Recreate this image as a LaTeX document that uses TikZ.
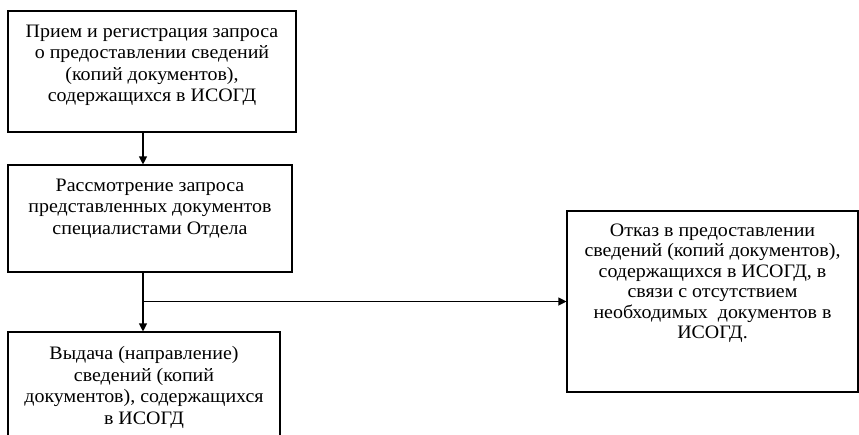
\documentclass[tikz,border=0pt]{standalone}
\usepackage{fontspec}
\setmainfont[FakeStretch=1.05]{Liberation Serif}
\usetikzlibrary{arrows.meta}
\begin{document}
\begin{tikzpicture}[x=1pt,y=-1pt,
  frame/.style={draw=black,line width=1.1pt,inner sep=0pt,rectangle},
  lbl/.style={align=center,inner sep=0pt,anchor=north,font=\fontsize{19}{21.5}\selectfont},
  arr/.style={draw=black,line width=1.1pt,-{Triangle[length=8pt,width=8pt]}}]
\useasboundingbox (0,0) rectangle (859,434);
\clip (0,0) rectangle (859,434);
% boxes
\node[frame,minimum width=288pt,minimum height=121pt] (b1) at (152,71.5) {};
\node[frame,minimum width=284pt,minimum height=107pt] (b2) at (150,218.5) {};
\node[frame,minimum width=272pt,minimum height=120pt] (b3) at (144,392) {};
\node[frame,minimum width=291pt,minimum height=181pt] (b4) at (712.5,301.5) {};
% texts
\node[lbl] (t1) at ([yshift=-14pt]b1.north) {Прием и регистрация запроса\\о предоставлении сведений\\(копий документов),\\содержащихся в ИСОГД};
\node[lbl] (t2) at ([yshift=-14pt]b2.north) {Рассмотрение запроса\\представленных документов\\специалистами Отдела};
\node[lbl] (t3) at ([yshift=-15pt]b3.north) {Выдача (направление)\\сведений (копий\\документов), содержащихся\\в ИСОГД};
\node[lbl,font=\fontsize{19}{20.5}\selectfont] (t4) at ([yshift=-13pt]b4.north) {Отказ в предоставлении\\сведений (копий документов),\\содержащихся в ИСОГД, в\\связи с отсутствием\\необходимых\ \ документов в\\ИСОГД.};
% connectors
\coordinate (ax) at (143,0);
\draw[arr] (b1.south -| ax) -- (b2.north -| ax);
\draw[arr] (b2.south -| ax) -- (b3.north -| ax);
\draw[arr] (b4.west -| ax) -- (b4.west);
\end{tikzpicture}
\end{document}
